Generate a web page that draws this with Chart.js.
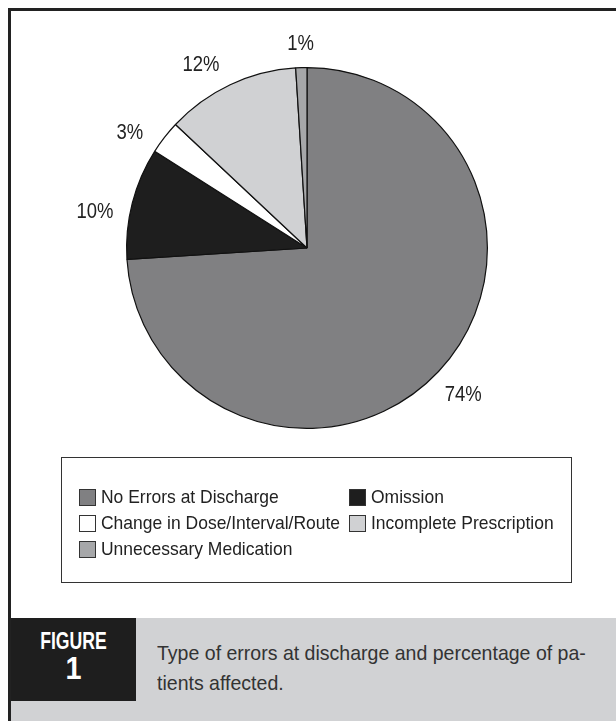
<!DOCTYPE html>
<html>
<head>
<meta charset="utf-8">
<script src="https://cdn.jsdelivr.net/npm/chart.js@4.4.1/dist/chart.umd.min.js"></script>
<style>
    html, body { margin: 0; padding: 0; background: #fff; }
    body { width: 616px; height: 721px; position: relative; overflow: hidden; font-family: "Liberation Sans", Arial, sans-serif; color: #222; }
    .frame { position: absolute; left: 8px; top: 8px; width: 620px; height: 720px; border-left: 3px solid #222; border-top: 3px solid #222; }
    #pieWrap { position: absolute; left: 47px; top: 28px; width: 520px; height: 440px; }
    .legend-box { position: absolute; left: 61px; top: 457px; width: 509px; height: 124px; border: 1.5px solid #333; }
    .legend-item { position: absolute; height: 20px; display: flex; align-items: center; white-space: nowrap; }
    .legend-item .sw { width: 15px; height: 15px; border: 1.5px solid #333; margin-right: 5px; flex: none; }
    .legend-item .txt { display: inline-block; font-size: 19px; transform: scaleX(0.92); transform-origin: left center; }
    .caption { position: absolute; left: 11px; top: 618px; right: 0; bottom: 0; background: #d1d2d4; }
    .fig-box { position: absolute; left: 11px; top: 618px; width: 125px; height: 83px; background: #1e1e1e; color: #fff; text-align: center; font-weight: bold; }
    .fig-box .word { position: absolute; left: 0; right: 0; top: 11px; font-size: 21px; transform: scale(0.84, 1.1); }
    .fig-box .num { position: absolute; left: 0; right: 0; top: 32px; font-size: 32px; transform: scaleX(0.9); }
    .caption-text { position: absolute; left: 157px; top: 638px; font-size: 21px; line-height: 30px; color: #333; white-space: nowrap; transform: scaleX(0.93); transform-origin: left top; }
</style>
</head>
<body>
<div class="frame"></div>
<div id="pieWrap"><canvas id="errorPie"></canvas></div>
<div class="legend-box" id="legend"></div>
<div class="caption"></div>
<div class="fig-box"><div class="word">FIGURE</div><div class="num">1</div></div>
<div class="caption-text">Type of errors at discharge and percentage of pa-<br>tients affected.</div>

<script>
// Data
const categories = ['No Errors at Discharge', 'Omission', 'Change in Dose/Interval/Route', 'Incomplete Prescription', 'Unnecessary Medication'];
const percents = [74, 10, 3, 12, 1];
const sliceColors = ['#808082', '#1e1e1e', '#ffffff', '#d0d1d3', '#a6a7a9'];

// Percentage labels drawn just outside each slice
const outsideLabels = {
    id: 'outsideLabels',
    afterDatasetsDraw(chart, args, opts) {
        const ctx = chart.ctx;
        const arcs = chart.getDatasetMeta(0).data;
        const squeeze = 0.84;
        ctx.save();
        ctx.font = '22px "Liberation Sans", Arial, sans-serif';
        ctx.fillStyle = '#222';
        ctx.textAlign = 'center';
        ctx.textBaseline = 'middle';
        arcs.forEach(function(arc, i) {
            const p = arc.getProps(['x', 'y', 'startAngle', 'endAngle', 'outerRadius'], true);
            const text = percents[i] + '%';
            let mid = (p.startAngle + p.endAngle) / 2;
            // labels on the left half sit a little further round, as in the original
            if (Math.cos(mid) < -0.1) mid += opts.leftShift;
            const halfW = ctx.measureText(text).width * squeeze / 2;
            const halfH = 8;
            const r = p.outerRadius + opts.gap + Math.abs(Math.cos(mid)) * halfW + Math.abs(Math.sin(mid)) * halfH;
            const lx = p.x + Math.cos(mid) * r;
            const ly = p.y + Math.sin(mid) * r;
            ctx.save();
            ctx.translate(lx, ly);
            ctx.scale(squeeze, 1);
            ctx.fillText(text, 0, 0);
            ctx.restore();
        });
        ctx.restore();
    }
};

const ctx = document.getElementById('errorPie').getContext('2d');
const errorChart = new Chart(ctx, {
    type: 'pie',
    data: {
        labels: categories,
        datasets: [{
            data: percents,
            backgroundColor: sliceColors,
            borderColor: '#111',
            borderWidth: 1.2
        }]
    },
    options: {
        responsive: true,
        maintainAspectRatio: false,
        animation: false,
        layout: { padding: { left: 79, right: 79, top: 39, bottom: 39 } },
        plugins: {
            legend: { display: false },
            tooltip: { enabled: false },
            outsideLabels: { gap: 15, leftShift: -0.085 }
        }
    },
    plugins: [outsideLabels]
});

// Legend in two columns, built from the chart data
const legendSlots = [
    { left: 17, top: 29 }, { left: 287, top: 29 },
    { left: 17, top: 55 }, { left: 287, top: 55 },
    { left: 17, top: 81 }
];
const legendEl = document.getElementById('legend');
errorChart.data.labels.forEach(function(label, i) {
    const item = document.createElement('div');
    item.className = 'legend-item';
    item.style.left = legendSlots[i].left + 'px';
    item.style.top = legendSlots[i].top + 'px';
    item.innerHTML = '<span class="sw" style="background:' + errorChart.data.datasets[0].backgroundColor[i] + '"></span><span class="txt">' + label + '</span>';
    legendEl.appendChild(item);
});
</script>
</body>
</html>
